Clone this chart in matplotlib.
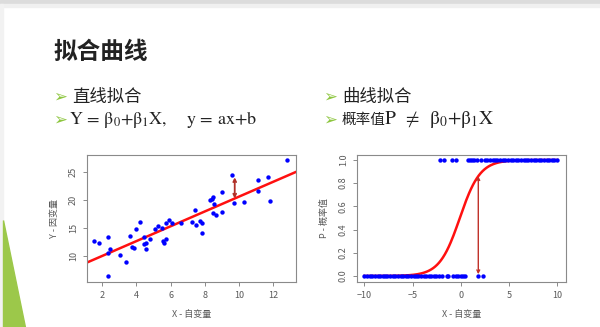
import numpy as np
import matplotlib
matplotlib.use('Agg')
import matplotlib.pyplot as plt
from matplotlib.patches import Rectangle, Polygon

plt.rcParams['font.family'] = ['Noto Sans CJK SC', 'DejaVu Sans']
plt.rcParams['mathtext.fontset'] = 'stix'

########################################################################
# linear fit data
lin_x = [1.55, 1.84, 2.33, 2.37, 2.45, 2.37, 3.05, 3.4, 3.63, 3.77, 3.87, 3.96,
         4.22, 4.43, 4.47, 4.55, 4.57, 4.8, 5.07, 5.27, 5.5, 5.54, 5.62, 5.74,
         5.74, 5.91, 6.07, 6.61, 7.23, 7.45, 7.49, 7.7, 7.86, 7.84, 8.3, 8.42,
         8.46, 8.46, 8.56, 8.65, 8.98, 9.02, 9.6, 9.7, 10.27, 11.1, 11.1, 11.67,
         11.8, 12.82]
lin_y = [12.69, 12.39, 13.35, 10.6, 11.3, 6.4, 10.2, 9.0, 13.5, 11.7, 11.4, 14.9,
         16.1, 13.35, 12.15, 12.4, 11.2, 13.0, 14.9, 15.3, 15.1, 12.6, 12.3, 13.0,
         16.0, 16.5, 15.9, 16.0, 16.1, 18.25, 15.55, 16.3, 14.2, 15.9, 20.0, 20.2,
         20.6, 17.65, 19.4, 17.35, 21.4, 17.95, 24.5, 19.55, 19.6, 23.7, 21.7, 24.1,
         19.8, 27.2]
lin_a = 7.34   # intercept
lin_b = 1.33   # slope
lin_arrow_x = 9.75
lin_arrow_top = 24.1

# logistic fit data
log_x0 = [-10.0, -9.7, -9.45, -9.2, -8.9, -8.6, -8.4, -8.1, -7.85, -7.6, -7.3,
          -7.05, -6.8, -6.5, -6.25, -6.0, -5.7, -5.45, -5.2, -4.9, -4.65, -4.4,
          -4.1, -3.85, -3.6, -3.3, -3.05, -2.8, -2.55, -2.3, -2.0, -1.45, -1.3,
          -0.78, -0.5, -0.25, 0.0, 0.25, 0.47, 1.81, 2.27]
log_x1 = [-2.2, -1.75, -0.95, -0.5, 0.78, 1.0, 1.2, 1.4, 1.65, 2.06,
          2.5, 2.75, 3.0, 3.3, 3.55, 3.8, 4.1, 4.35, 4.6, 4.9, 5.15, 5.4, 5.7,
          5.95, 6.2, 6.5, 6.75, 7.0, 7.3, 7.55, 7.8, 8.1, 8.35, 8.6, 8.9, 9.15,
          9.4, 9.7, 10.0]
log_b0 = 0.1
log_b1 = 0.95
log_arrow_x = 1.81

gray = '#5a5a5a'
tick_fs = 6.5
txt_col = '#222222'

######################################################################
fig = plt.figure(figsize=(6.0, 3.27), dpi=100)
fig.patch.set_facecolor('white')

# slide decoration
fig.patches.append(Rectangle((0, 1 - 4 / 327), 1, 4 / 327, transform=fig.transFigure,
                             color='#dcdcdc', zorder=0))
fig.patches.append(Rectangle((0, 1 - 7 / 327), 1, 3 / 327, transform=fig.transFigure,
                             color='#f0f0f0', zorder=0))
fig.patches.append(Rectangle((0, 0), 3 / 600, 1 - 4 / 327, transform=fig.transFigure,
                             color='#f2f2f2', zorder=0))
fig.patches.append(Polygon([(3 / 600, 1 - 220 / 327), (3 / 600, 0), (25 / 600, 0)],
                           closed=True, transform=fig.transFigure,
                           color='#9cc84a', zorder=1))

# title and bullets
fig.text(53 / 600, 1 - 52 / 327, '拟合曲线', fontsize=17, fontweight='bold',
         color=txt_col, va='center', ha='left')

bullet_col = '#8dc63f'
for bx, by in [(53, 97), (53, 120), (323, 97), (323, 120)]:
    fig.text(bx / 600, 1 - by / 327, '➢', family='DejaVu Sans', fontsize=12,
             color=bullet_col, va='center', ha='left')

fig.text(72 / 600, 1 - 97 / 327, '直线拟合', fontsize=12.5, fontweight='medium',
         color=txt_col, va='center', ha='left')
fig.text(69 / 600, 1 - 120 / 327,
         r'$\mathrm{Y\,=\,\beta_0{+}\beta_1X,\quad\ y\,=\,ax{+}b}$',
         fontsize=13, color=txt_col, va='center', ha='left')

fig.text(342 / 600, 1 - 97 / 327, '曲线拟合', fontsize=12.5, fontweight='medium',
         color=txt_col, va='center', ha='left')
fig.text(342 / 600, 1 - 120 / 327, '概率值', fontsize=10.5, fontweight='medium',
         color=txt_col, va='center', ha='left')
fig.text(384 / 600, 1 - 120 / 327, r'$\mathrm{P\;\;\neq\;\;\beta_0{+}\beta_1X}$',
         fontsize=14, color=txt_col, va='center', ha='left')


def style_axes(ax):
    for s in ax.spines.values():
        s.set_color('#8a8a8a')
        s.set_linewidth(0.8)
    ax.tick_params(colors='#8a8a8a', labelcolor=gray, labelsize=tick_fs,
                   length=3, width=0.7, direction='out')
    for lab in ax.get_yticklabels():
        lab.set_rotation(90)
        lab.set_va('center')


########################################################################
# straight line fit
ax1 = fig.add_axes([87 / 600, 45 / 327, 209 / 600, 127 / 327])
ax1.scatter(lin_x, lin_y, s=10, color='#0000ff', zorder=3, linewidths=0)
xl = np.array([1.0, 13.5])
ax1.plot(xl, lin_a + lin_b * xl, color='#ff1010', lw=1.8, zorder=2)
ax1.annotate('', xy=(lin_arrow_x, lin_arrow_top),
             xytext=(lin_arrow_x, lin_a + lin_b * lin_arrow_x),
             arrowprops=dict(arrowstyle='<->', color='#b03028', lw=1.3,
                             mutation_scale=5, shrinkA=0, shrinkB=0), zorder=4)
ax1.set_xlim(1.12, 13.33)
ax1.set_ylim(5.34, 28.1)
ax1.set_xticks([2, 4, 6, 8, 10, 12])
ax1.set_yticks([10, 15, 20, 25])
ax1.set_xlabel('X - 自变量', fontsize=tick_fs, color=gray, labelpad=7)
ax1.set_ylabel('Y - 因变量', fontsize=tick_fs, color=gray, labelpad=7)
style_axes(ax1)

########################################################################
# logistic fit
ax2 = fig.add_axes([357 / 600, 45 / 327, 209 / 600, 127 / 327])
ax2.scatter(log_x0, [0] * len(log_x0), s=10, color='#0000ff', zorder=3, linewidths=0)
ax2.scatter(log_x1, [1] * len(log_x1), s=10, color='#0000ff', zorder=3, linewidths=0)
xc = np.linspace(-10, 10, 200)
pc = 1 / (1 + np.exp(-(log_b0 + log_b1 * xc)))
ax2.plot(xc, pc, color='#ff1010', lw=1.8, zorder=2)
p_arrow = 1 / (1 + np.exp(-(log_b0 + log_b1 * log_arrow_x)))
ax2.annotate('', xy=(log_arrow_x, p_arrow), xytext=(log_arrow_x, 0.015),
             arrowprops=dict(arrowstyle='<->', color='#c03028', lw=1.0,
                             mutation_scale=5, shrinkA=0, shrinkB=0), zorder=4)
ax2.set_xlim(-10.76, 10.9)
ax2.set_ylim(-0.052, 1.043)
ax2.set_xticks([-10, -5, 0, 5, 10])
ax2.set_yticks([0.0, 0.2, 0.4, 0.6, 0.8, 1.0])
ax2.set_yticklabels(['0.0', '0.2', '0.4', '0.6', '0.8', '1.0'])
ax2.set_xlabel('X - 自变量', fontsize=tick_fs, color=gray, labelpad=7)
ax2.set_ylabel('P - 概率值', fontsize=tick_fs, color=gray, labelpad=7)
style_axes(ax2)

fig.savefig('out.png', dpi=100)
